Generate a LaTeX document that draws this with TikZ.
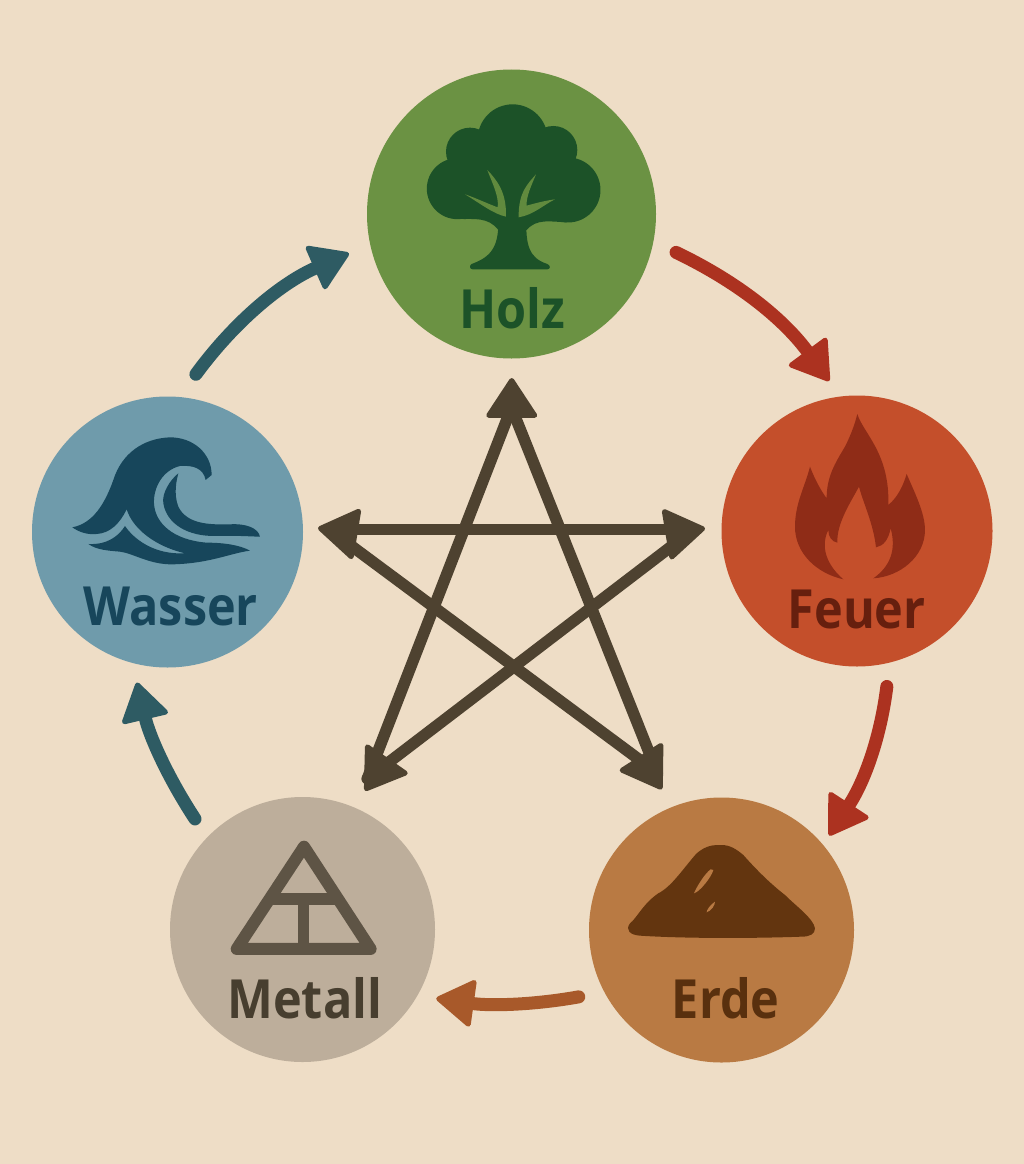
\documentclass[tikz,border=0pt]{standalone}
\usepackage{fontspec}
\setmainfont{Open Sans}[FakeStretch=0.9]
\usetikzlibrary{arrows.meta, positioning, calc}
\definecolor{paper}{HTML}{EEDDC6}
\definecolor{holzfill}{HTML}{6B9243}
\definecolor{holzdark}{HTML}{1C5228}
\definecolor{holzleaf}{HTML}{618A3E}
\definecolor{feuerfill}{HTML}{C44F2B}
\definecolor{feuerdark}{HTML}{8F2C17}
\definecolor{feuertext}{HTML}{661F0E}
\definecolor{wasserfill}{HTML}{6F9BAB}
\definecolor{wasserdark}{HTML}{17465B}
\definecolor{metallfill}{HTML}{BDAE9B}
\definecolor{metalldark}{HTML}{5E5445}
\definecolor{metalltext}{HTML}{473E2F}
\definecolor{erdefill}{HTML}{B97A43}
\definecolor{erdedark}{HTML}{63350F}
\definecolor{cyclered}{HTML}{AC3220}
\definecolor{cyclebrown}{HTML}{A8592A}
\definecolor{cycleteal}{HTML}{2E5B63}
\definecolor{starbrown}{HTML}{4E4230}
\tikzset{
  element/.style={circle,inner sep=0pt,minimum size=#1},
  elementlabel/.style={anchor=base,inner sep=0pt,font=\fontsize{54}{54}\selectfont\bfseries},
  cyclearrow/.style={line width=13pt,line cap=round,#1,
    -{Triangle[length=40pt,width=50pt,line width=5pt,round]}},
  starline/.style={line width=11.5pt,starbrown,line cap=round},
  starhead/.style={line width=3pt,starbrown,
    -{Triangle[length=42pt,width=54pt,line width=5pt,round]}},
}
\begin{document}
\begin{tikzpicture}[x=1pt,y=-1pt]
	\useasboundingbox (0,0) rectangle (1024,1164);
	\fill[paper] (0,0) rectangle (1024,1164);
	% circles
	\node[element=289pt,fill=holzfill] (holz) at (511.5,214) {};
	\node[element=271pt,fill=feuerfill] (feuer) at (857,531) {};
	\node[element=271pt,fill=wasserfill] (wasser) at (167.5,532) {};
	\node[element=265pt,fill=metallfill] (metall) at (302.5,929.5) {};
	\node[element=265pt,fill=erdefill] (erde) at (721.5,930) {};
	% tree
	\begin{scope}[shift={(360,60)},x=.3333pt,y=-.3333pt]
		\fill[holzdark] (292,386) circle[radius=30.5pt] (624,390) circle[radius=32.5pt]
			(330,275) circle[radius=24pt] (580,270) circle[radius=24pt]
			(458,238) circle[radius=35pt] (458,350) circle[radius=45pt];
		\fill[holzdark] (300,477) .. controls (340,478) and (385,470) .. (415,510) -- (500,510)
			.. controls (530,475) and (570,485) .. (620,487) -- (620,400) -- (300,400) -- cycle;
		\fill[holzdark] (415,470) .. controls (418,560) and (395,590) .. (335,612)
			.. controls (328,616) and (328,628) .. (338,628) -- (562,628)
			.. controls (572,628) and (572,616) .. (562,612)
			.. controls (510,595) and (495,560) .. (500,470) -- cycle;
		\fill[holzleaf] (382,330) .. controls (410,360) and (440,395) .. (438,470)
			.. controls (400,462) and (360,430) .. (315,403)
			.. controls (350,415) and (385,432) .. (413,442)
			.. controls (418,410) and (395,365) .. (382,330) -- cycle;
		\fill[holzleaf] (528,343) .. controls (505,370) and (475,395) .. (476,472)
			.. controls (520,465) and (550,435) .. (585,418)
			.. controls (555,422) and (525,430) .. (500,437)
			.. controls (498,410) and (515,375) .. (528,343) -- cycle;
	\end{scope}
	% flame
	\begin{scope}[shift={(720,390)},x=.3333pt,y=-.3333pt]
		\fill[feuerdark] (412,72) .. controls (430,130) and (510,190) .. (505,345)
			.. controls (535,320) and (550,285) .. (560,252)
			.. controls (585,310) and (615,370) .. (615,420)
			.. controls (615,500) and (540,560) .. (460,565)
			.. controls (510,530) and (530,480) .. (512,415)
			.. controls (505,450) and (490,468) .. (468,472)
			.. controls (460,400) and (430,340) .. (417,290)
			.. controls (390,340) and (350,400) .. (352,458)
			.. controls (335,455) and (325,440) .. (325,420)
			.. controls (300,470) and (320,525) .. (370,568)
			.. controls (290,550) and (225,490) .. (225,410)
			.. controls (225,340) and (255,290) .. (270,230)
			.. controls (285,270) and (305,305) .. (320,325)
			.. controls (320,260) and (345,220) .. (375,170)
			.. controls (395,130) and (405,100) .. (412,72) -- cycle;
	\end{scope}
	% wave
	\begin{scope}[shift={(30,390)},x=.3333pt,y=-.3333pt]
		\fill[wasserdark] (127,412) .. controls (190,400) and (225,340) .. (250,270)
			.. controls (275,190) and (340,145) .. (420,142)
			.. controls (490,142) and (545,190) .. (545,255)
			-- (527,270)
			.. controls (520,235) and (490,225) .. (450,228)
			.. controls (400,240) and (370,290) .. (372,340)
			.. controls (375,400) and (430,450) .. (530,458)
			.. controls (580,458) and (630,465) .. (660,482)
			.. controls (600,490) and (540,520) .. (430,523)
			.. controls (360,525) and (310,490) .. (270,485)
			.. controls (235,482) and (200,480) .. (175,462)
			.. controls (230,465) and (265,440) .. (285,408)
			.. controls (310,445) and (370,495) .. (465,490)
			.. controls (380,470) and (310,420) .. (290,358)
			.. controls (270,400) and (240,430) .. (200,432)
			.. controls (170,435) and (145,425) .. (127,412) -- cycle;
		\fill[wasserdark] (445,250) .. controls (420,270) and (395,310) .. (400,340)
			.. controls (410,400) and (470,440) .. (560,438)
			.. controls (620,436) and (670,440) .. (690,440)
			.. controls (685,415) and (650,400) .. (600,403)
			.. controls (530,405) and (470,400) .. (445,350)
			.. controls (430,310) and (440,270) .. (445,250) -- cycle;
	\end{scope}
	% metal sign
	\begin{scope}[shift={(160,790)},x=.3333pt,y=-.3333pt]
		\draw[metalldark,line width=12pt,line join=round] (432,170) -- (230,477) -- (632,477) -- cycle;
		\draw[metalldark,line width=11pt] (329,327) -- (534,327) (430,327) -- (430,477);
	\end{scope}
	% mound
	\begin{scope}[shift={(580,790)},x=.3333pt,y=-.3333pt]
		\fill[erdedark] (150,400) .. controls (170,385) and (190,340) .. (235,310)
			.. controls (275,290) and (310,235) .. (350,190)
			.. controls (380,165) and (400,165) .. (425,165)
			.. controls (450,165) and (470,178) .. (490,195)
			.. controls (530,240) and (570,280) .. (615,315)
			.. controls (650,350) and (700,385) .. (705,415)
			.. controls (705,432) and (690,440) .. (665,440)
			.. controls (500,446) and (300,445) .. (180,437)
			.. controls (150,435) and (135,420) .. (150,400) -- cycle;
		\fill[erdefill] (392,238) .. controls (375,250) and (350,290) .. (342,310)
			.. controls (360,305) and (395,260) .. (400,240) -- cycle;
		\fill[erdefill] (405,335) .. controls (390,345) and (380,360) .. (380,367)
			.. controls (395,362) and (405,345) .. (405,335) -- cycle;
	\end{scope}
	% labels
	\node[elementlabel,text=holzdark] (holzlabel) at (512.5,328) {Holz};
	\node[elementlabel,text=feuertext] (feuerlabel) at (856.7,628.3) {Feuer};
	\node[elementlabel,text=wasserdark] (wasserlabel) at (170.8,625) {Wasser};
	\node[elementlabel,text=metalltext] (metalllabel) at (304.7,1018) {Metall};
	\node[elementlabel,text=erdedark!90!black] (erdelabel) at (725.7,1018.7) {Erde};
	% outer cycle
	\draw[cyclearrow=cyclered,shorten <=25pt,shorten >=19pt] (holz.-11.5) to[bend left=14] (feuer.97);
	\draw[cyclearrow=cyclered,shorten <=24pt,shorten >=11pt] (feuer.-76.5) to[bend left=13] (erde.40.3);
	\draw[cyclearrow=cyclebrown,shorten <=26pt,shorten >=19pt] (erde.208.5) to[bend left=9] (metall.-30.3);
	\draw[cyclearrow=cycleteal,shorten <=22pt,shorten >=20pt] (metall.136.2) to[bend left=10] (wasser.-105.1);
	\draw[cyclearrow=cycleteal,shorten <=28pt,shorten >=23pt] (wasser.85) to[bend left=15] (holz.192);
	% star
	\coordinate (vtop) at (511.5,407.5);
	\coordinate (vright) at (693.7,529.3);
	\coordinate (vlowright) at (657.3,773);
	\coordinate (vlowleft) at (367.3,778.7);
	\coordinate (vleft) at (329,529.3);
	\draw[starline] (vtop) -- (vlowleft);
	\draw[starline] (vtop) -- (vlowright);
	\draw[starline] (vleft) -- (vright);
	\draw[starline] (vleft) -- (vlowright);
	\draw[starline] (vright) -- (vlowleft);
	\coordinate (btop) at (511.7,416);
	\coordinate (ttop) at (511.7,378);
	\coordinate (bleft) at (355,534);
	\coordinate (tleft) at (318,528);
	\coordinate (bright) at (670,534);
	\coordinate (tright) at (705,528.3);
	\coordinate (blowleft) at (387,759);
	\coordinate (tlowleft) at (365,790.7);
	\coordinate (blowright) at (641,757);
	\coordinate (tlowright) at (661.7,789.3);
	\foreach \b/\t in {btop/ttop,bleft/tleft,bright/tright,blowleft/tlowleft,blowright/tlowright}
		\draw[starhead] (\b) -- (\t);
\end{tikzpicture}
\end{document}
